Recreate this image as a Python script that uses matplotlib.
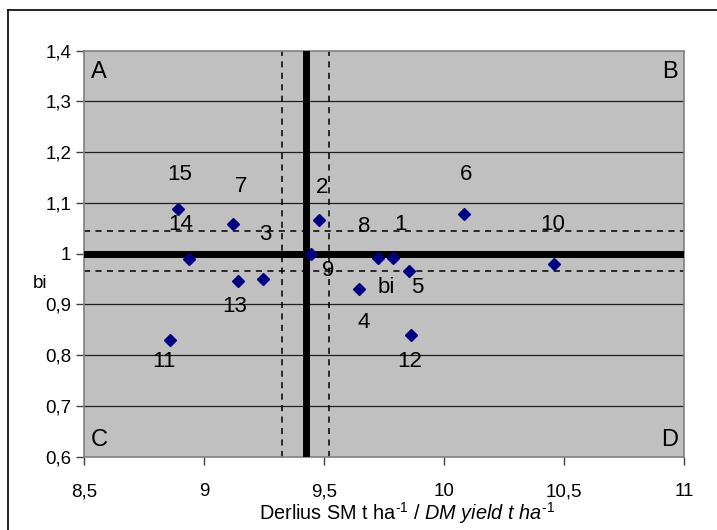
import matplotlib
matplotlib.use("Agg")
import matplotlib.pyplot as plt
from matplotlib.lines import Line2D

plt.rcParams['font.family'] = ['Liberation Sans', 'DejaVu Sans']
plt.rcParams['mathtext.fontset'] = 'custom'
plt.rcParams['mathtext.rm'] = 'Liberation Sans'
plt.rcParams['mathtext.it'] = 'Liberation Sans:italic'

# genotypes: yield (x) and regression coefficient bi (y)
labels = ['1', '2', '3', '4', '5', '6', '7', '8', '9', '10', '11', '12', '13', '14', '15']
yield_dm = [9.789, 9.479, 9.247, 9.647, 9.854, 10.085, 9.122, 9.726, 9.446, 10.458,
            8.858, 9.861, 9.143, 8.937, 8.890]
bi = [0.992, 1.066, 0.950, 0.930, 0.966, 1.078, 1.058, 0.992, 0.999, 0.980,
      0.829, 0.840, 0.946, 0.990, 1.088]
# where the point labels sit
label_x = [9.817, 9.490, 9.254, 9.667, 9.889, 10.094, 9.154, 9.667, 9.518, 10.453,
           8.835, 9.858, 9.129, 8.901, 8.900]
label_y = [1.057, 1.131, 1.037, 0.864, 0.933, 1.157, 1.132, 1.054, 0.966, 1.057,
           0.787, 0.787, 0.896, 1.057, 1.157]

mean_yield = 9.425
yield_band = [9.326, 9.522]
bi_mean = 1.0
bi_band = [0.9665, 1.0453]

xticks = [8.5, 9, 9.5, 10, 10.5, 11]
yticks = [0.6, 0.7, 0.8, 0.9, 1.0, 1.1, 1.2, 1.3, 1.4]


def comma(v):
    s = f'{v:g}'
    return s.replace('.', ',')


fig = plt.figure(figsize=(7.17, 5.30), dpi=100)
ax = fig.add_axes([84 / 717, 1 - 456.7 / 530, 600 / 717, 406 / 530])
ax.set_facecolor('#c0c0c0')
ax.set_xlim(8.5, 11)
ax.set_ylim(0.6, 1.4)

for y in yticks[1:-1]:
    ax.axhline(y, color='#202020', lw=0.9, zorder=1)

for x in yield_band:
    ax.axvline(x, color='black', lw=1.1, ls=(0, (4, 3.5)), zorder=2)
for y in bi_band:
    ax.axhline(y, color='black', lw=1.1, ls=(0, (4, 3.5)), zorder=2)
ax.axvline(mean_yield, color='black', lw=5, zorder=3)
ax.axhline(bi_mean, color='black', lw=5, zorder=3)

ax.plot(yield_dm, bi, ls='none', marker='D', ms=6.2, color='#000080', zorder=4)

for t, x, y in zip(labels, label_x, label_y):
    ax.text(x, y, t, fontsize=16, ha='center', va='center', zorder=5)
ax.text(9.758, 0.933, 'bi', fontsize=16, ha='center', va='center', zorder=5)

for t, x, y, ha, va in [('A', 8.53, 1.38, 'left', 'top'), ('B', 10.975, 1.38, 'right', 'top'),
                        ('C', 8.53, 0.612, 'left', 'bottom'), ('D', 10.975, 0.612, 'right', 'bottom')]:
    ax.text(x, y, t, fontsize=17, ha=ha, va=va, zorder=5)

ax.set_xticks(xticks)
ax.set_xticklabels([comma(v) for v in xticks])
ax.set_yticks(yticks)
ax.set_yticklabels([comma(round(v, 1)) for v in yticks])
ax.tick_params(axis='both', labelsize=13.5, length=6, width=1, color='#404040', direction='out')
ax.tick_params(axis='x', pad=13)
ax.tick_params(axis='y', pad=3)
for s in ax.spines.values():
    s.set_color('#808080')
    s.set_linewidth(1.2)

ax.set_xlabel('Derlius SM t ha$^{\u20101}$ / $\\mathit{DM\\ yield\\ t\\ ha}^{\u20101}$',
              fontsize=14.3)
ax.xaxis.set_label_coords(0.538, -0.106)
fig.text(33 / 717, 1 - 283 / 530, 'bi', fontsize=13.5, ha='left', va='center')

# chart frame (only the top and left edges fall inside the picture)
fig.add_artist(Line2D([8 / 717, 8 / 717], [0, 1 - 10 / 530], color='black', lw=1.2))
fig.add_artist(Line2D([8 / 717, 1], [1 - 10 / 530, 1 - 10 / 530], color='black', lw=1.2))

fig.savefig('out.png', dpi=100)
